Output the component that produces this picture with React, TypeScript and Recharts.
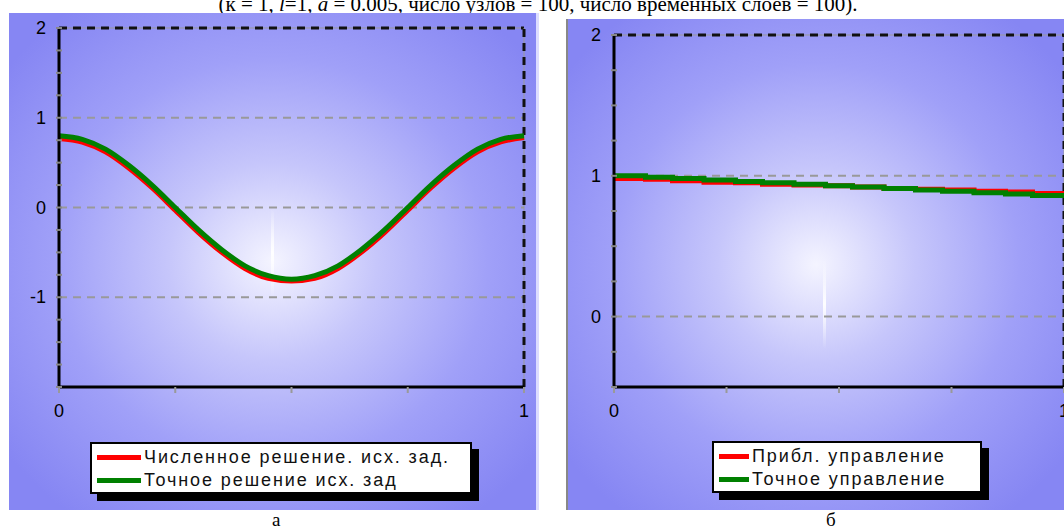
import { LineChart, Line, XAxis, YAxis, ReferenceLine } from 'recharts'

// panel "а": initial problem, numerical vs exact solution
const xsA = [0, 0.05, 0.1, 0.15, 0.2, 0.25, 0.3, 0.35, 0.4, 0.45, 0.5, 0.55, 0.6, 0.65, 0.7, 0.75, 0.8, 0.85, 0.9, 0.95, 1]
const numericA = [0.77, 0.73, 0.62, 0.44, 0.22, -0.03, -0.28, -0.5, -0.68, -0.79, -0.82, -0.79, -0.68, -0.5, -0.28, -0.03, 0.22, 0.44, 0.62, 0.73, 0.78]
const exactA = [0.8, 0.76, 0.65, 0.47, 0.25, 0.0, -0.25, -0.47, -0.65, -0.76, -0.8, -0.76, -0.65, -0.47, -0.25, 0.0, 0.25, 0.47, 0.65, 0.76, 0.8]

// panel "б": control, approximate vs exact
const xsB = [0, 0.07, 0.13, 0.2, 0.27, 0.33, 0.4, 0.47, 0.53, 0.6, 0.67, 0.73, 0.8, 0.87, 0.93, 1]
const approxB = [0.98, 0.975, 0.965, 0.955, 0.95, 0.94, 0.935, 0.93, 0.92, 0.91, 0.905, 0.9, 0.89, 0.885, 0.875, 0.87]
const exactB = [1.0, 0.99, 0.98, 0.97, 0.96, 0.95, 0.94, 0.93, 0.92, 0.91, 0.9, 0.89, 0.88, 0.87, 0.86, 0.85]

const namesA = ['Численное решение. исх. зад.', 'Точное решение исх. зад']
const namesB = ['Прибл. управление', 'Точное управление']

const yTicksA = [-2, -1.75, -1.5, -1.25, -1, -0.75, -0.5, -0.25, 0, 0.25, 0.5, 0.75, 1, 1.25, 1.5, 1.75, 2]
const yLabelsA = [2, 1, 0, -1]
const gridA = [1, 0, -1]
const yTicksB = [-0.5, -0.25, 0, 0.25, 0.5, 0.75, 1, 1.25, 1.5, 1.75, 2]
const yLabelsB = [2, 1, 0]
const gridB = [1, 0]
const xTicks = [0, 0.25, 0.5, 0.75, 1]
const xLabels = [0, 1]

const font = '"Liberation Sans", Arial, sans-serif'
const serif = '"Liberation Serif", "Times New Roman", serif'
const bg = 'radial-gradient(ellipse at 50% 50%, #f4f4ff 0%, #c6c6fb 28%, #a0a0f8 58%, #8686f3 90%)'

const makeYTick = (labels: number[]) => (props: any) => {
  const { x, y, payload } = props
  const show = labels.includes(payload.value)
  return (
    <g>
      <line x1={x - 3} x2={x + 3} y1={y} y2={y} stroke="#888" strokeWidth={2} />
      {show && (
        <text x={x - 13} y={y} dy={6} textAnchor="end" fontSize={18} fontFamily={font} fill="#000">
          {payload.value}
        </text>
      )}
    </g>
  )
}

const makeXTick = (labels: number[]) => (props: any) => {
  const { x, y, payload } = props
  const show = labels.includes(payload.value)
  return (
    <g>
      <line x1={x} x2={x} y1={y} y2={y + 6} stroke="#999" strokeWidth={2} />
      {show && (
        <text x={x} y={y + 30} textAnchor="middle" fontSize={18} fontFamily={font} fill="#000">
          {payload.value}
        </text>
      )}
    </g>
  )
}

type PanelProps = {
  left: number
  top: number
  width: number
  height: number
  margin: { top: number; right: number; bottom: number; left: number }
  xs: number[]
  red: number[]
  green: number[]
  names: string[]
  yDomain: [number, number]
  yTicks: number[]
  yLabels: number[]
  grid: number[]
  curve: 'monotone' | 'stepAfter'
  legend: { left: number; top: number; width: number; lineWidth: number }
  streak: { left: number; top: number }
  border: React.CSSProperties
}

function Panel(p: PanelProps) {
  const data = p.xs.map((x, i) => ({ x, red: p.red[i], green: p.green[i] }))
  return (
    <div
      style={{
        position: 'absolute',
        left: p.left,
        top: p.top,
        width: p.width,
        height: p.height,
        background: bg,
        boxSizing: 'border-box',
        ...p.border,
      }}
    >
      <div
        style={{
          position: 'absolute',
          left: p.streak.left,
          top: p.streak.top,
          width: 3,
          height: 90,
          background: 'linear-gradient(to bottom, rgba(255,255,255,0), rgba(255,255,255,0.95), rgba(255,255,255,0))',
        }}
      />
      <div style={{ position: 'absolute', left: 0, top: 0 }}>
        <LineChart width={p.width} height={p.height} data={data} margin={p.margin}>
          {p.grid.map((g) => (
            <ReferenceLine key={g} y={g} stroke="#999" strokeWidth={2} strokeDasharray="8 6" />
          ))}
          <ReferenceLine y={p.yDomain[1]} stroke="#999" strokeWidth={1} />
          <ReferenceLine y={p.yDomain[1]} stroke="#111" strokeWidth={3} strokeDasharray="8 6" />
          <ReferenceLine x={1} stroke="#999" strokeWidth={1} />
          <ReferenceLine x={1} stroke="#111" strokeWidth={3} strokeDasharray="8 6" />
          <XAxis
            dataKey="x"
            type="number"
            domain={[0, 1]}
            ticks={xTicks}
            height={30}
            tickSize={0}
            tickMargin={0}
            tickLine={false}
            axisLine={{ stroke: '#000', strokeWidth: 3 }}
            tick={makeXTick(xLabels)}
            interval={0}
          />
          <YAxis
            type="number"
            domain={p.yDomain}
            ticks={p.yTicks}
            width={40}
            tickSize={0}
            tickMargin={0}
            tickLine={false}
            axisLine={{ stroke: '#000', strokeWidth: 3 }}
            tick={makeYTick(p.yLabels)}
            interval={0}
          />
          <Line
            type={p.curve}
            dataKey="red"
            name={p.names[0]}
            stroke="#ff0000"
            strokeWidth={5}
            dot={false}
            isAnimationActive={false}
          />
          <Line
            type={p.curve}
            dataKey="green"
            name={p.names[1]}
            stroke="#008000"
            strokeWidth={5}
            dot={false}
            isAnimationActive={false}
          />
        </LineChart>
      </div>
      <div
        style={{
          position: 'absolute',
          left: p.legend.left,
          top: p.legend.top,
          width: p.legend.width,
          height: 52,
          background: '#fff',
          border: '2px solid #000',
          boxShadow: '7px 7px 0 #000',
          boxSizing: 'border-box',
          fontFamily: font,
          fontSize: 18,
          color: '#111',
          padding: '2px 0 0 5px',
        }}
      >
        {p.names.map((n, i) => (
          <div key={n} style={{ display: 'flex', alignItems: 'center', height: 23, whiteSpace: 'nowrap' }}>
            <span
              style={{
                display: 'inline-block',
                width: p.legend.lineWidth,
                height: 5,
                background: i === 0 ? '#ff0000' : '#008000',
                marginRight: 3,
              }}
            />
            <span style={{ letterSpacing: 1.9 }}>{n}</span>
          </div>
        ))}
      </div>
    </div>
  )
}

export default function App() {
  return (
    <div style={{ position: 'fixed', left: 0, top: 0, width: 1064, height: 530, background: '#fff', overflow: 'hidden' }}>
      <div
        style={{
          position: 'absolute',
          left: 0,
          width: 1064,
          top: -6,
          textAlign: 'center',
          fontFamily: serif,
          fontSize: 21,
          lineHeight: '21px',
          whiteSpace: 'nowrap',
          paddingLeft: 12,
          boxSizing: 'border-box',
        }}
      >
        (к = 1, <i>l</i>=1, <i>a</i> = 0.005, число узлов = 100, число временных слоев = 100).
      </div>
      <Panel
        left={9}
        top={13}
        width={530}
        height={497}
        margin={{ top: 15, right: 15, bottom: 93, left: 10 }}
        xs={xsA}
        red={numericA}
        green={exactA}
        names={namesA}
        yDomain={[-2, 2]}
        yTicks={yTicksA}
        yLabels={yLabelsA}
        grid={gridA}
        curve="monotone"
        legend={{ left: 81, top: 429, width: 382, lineWidth: 44 }}
        streak={{ left: 262, top: 195 }}
        border={{ borderRight: '3px solid #dcdcff' }}
      />
      <Panel
        left={566}
        top={19}
        width={498}
        height={491}
        margin={{ top: 16, right: 2, bottom: 93, left: 6 }}
        xs={xsB}
        red={approxB}
        green={exactB}
        names={namesB}
        yDomain={[-0.5, 2]}
        yTicks={yTicksB}
        yLabels={yLabelsB}
        grid={gridB}
        curve="stepAfter"
        legend={{ left: 144, top: 422, width: 270, lineWidth: 30 }}
        streak={{ left: 255, top: 240 }}
        border={{ borderLeft: '2px solid #888' }}
      />
      <div style={{ position: 'absolute', left: 272, top: 509, fontFamily: serif, fontSize: 19 }}>а</div>
      <div style={{ position: 'absolute', left: 826, top: 509, fontFamily: serif, fontSize: 19 }}>б</div>
    </div>
  )
}
